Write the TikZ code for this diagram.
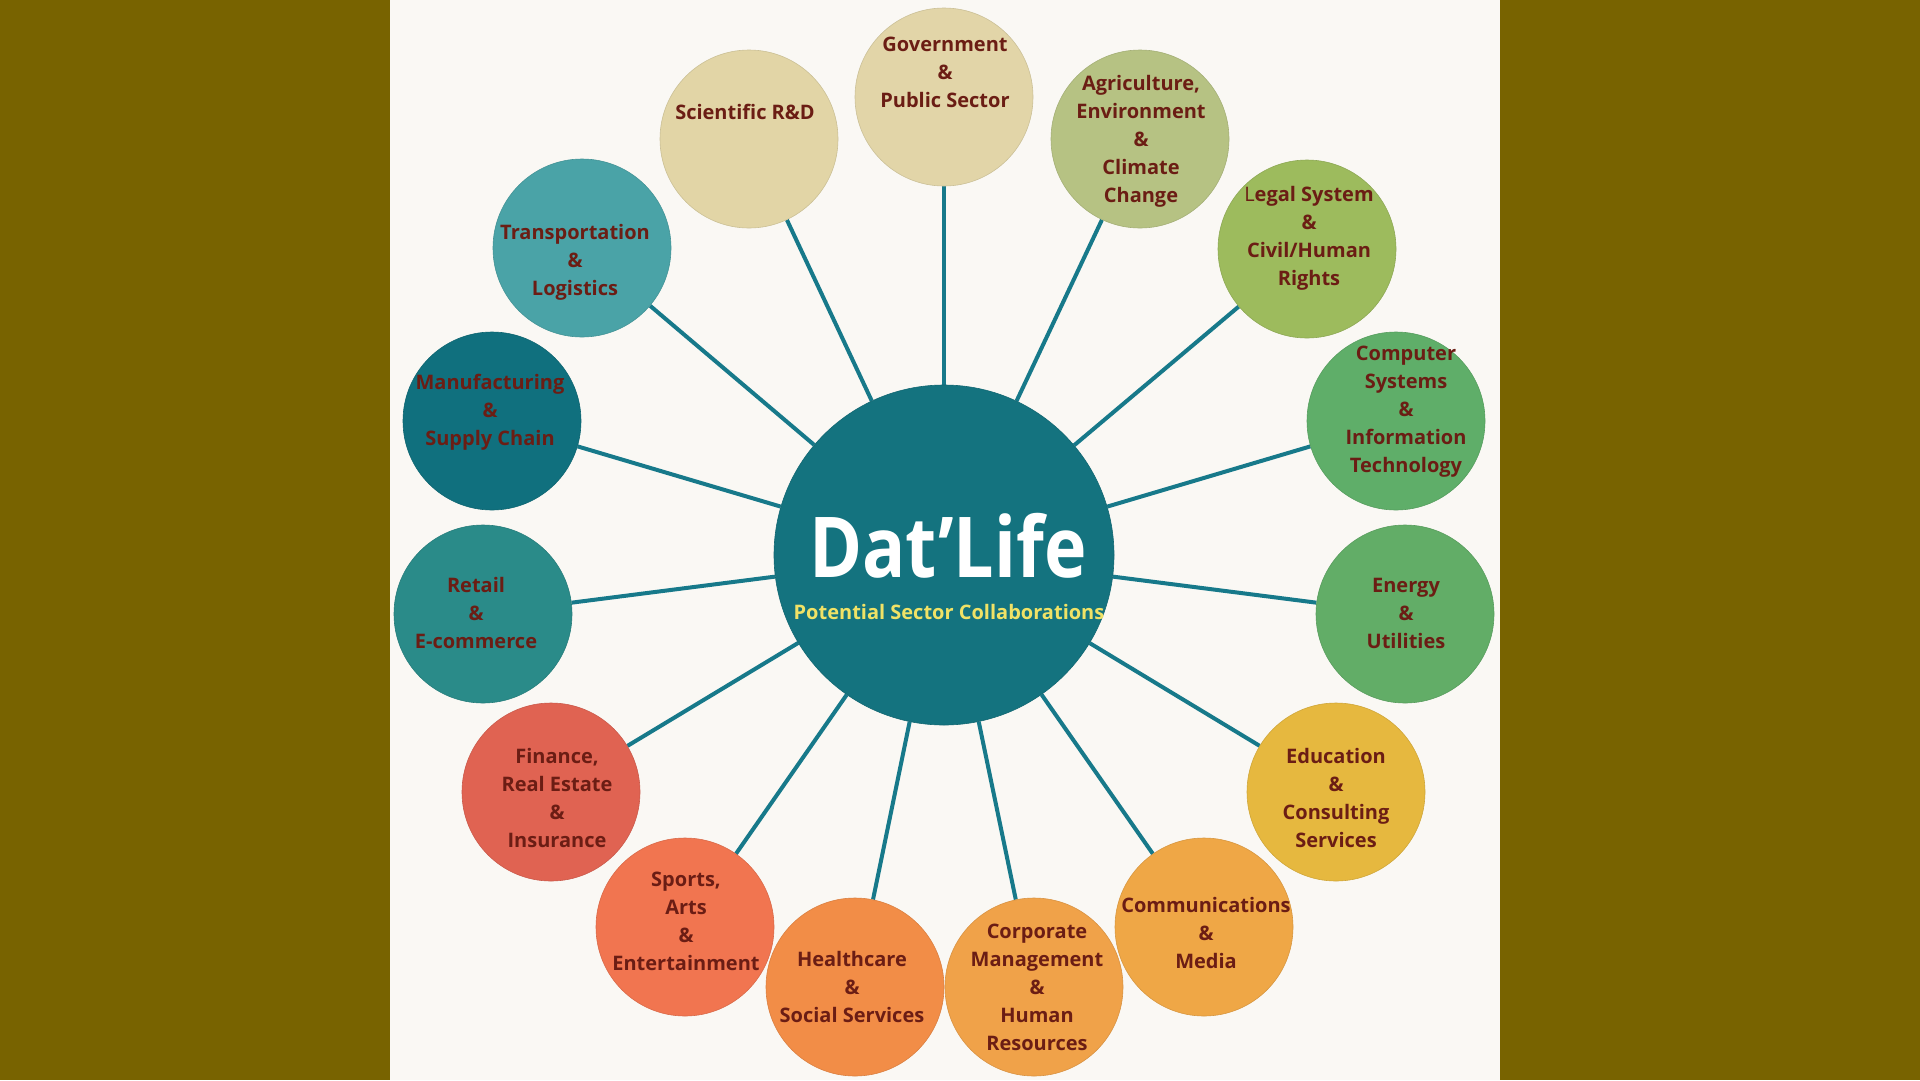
\documentclass[tikz,border=0pt]{standalone}
\usepackage{fontspec}
\usepackage{graphicx}
\setmainfont{Open Sans}
\usetikzlibrary{backgrounds}
\definecolor{olivebg}{HTML}{786300}
\definecolor{panel}{HTML}{FAF8F4}
\definecolor{hub}{HTML}{14737F}
\definecolor{linec}{HTML}{17798A}
\definecolor{txt}{HTML}{6B1D14}
\definecolor{subt}{HTML}{F0E266}
\definecolor{cgov}{HTML}{E2D5A8}
\definecolor{csci}{HTML}{E2D5A6}
\definecolor{cagri}{HTML}{B6C283}
\definecolor{clegal}{HTML}{9DBB5D}
\definecolor{ccomp}{HTML}{5FAE69}
\definecolor{cenergy}{HTML}{62AD67}
\definecolor{cedu}{HTML}{E6B83F}
\definecolor{ccomm}{HTML}{EFA746}
\definecolor{ccorp}{HTML}{F0A249}
\definecolor{chealth}{HTML}{F28D47}
\definecolor{csports}{HTML}{F17550}
\definecolor{cfin}{HTML}{E06352}
\definecolor{cretail}{HTML}{2A8B89}
\definecolor{cmanu}{HTML}{10707E}
\definecolor{ctrans}{HTML}{4AA3A7}
\pgfdeclarelayer{bg}
\pgfdeclarelayer{lines}
\pgfsetlayers{bg,lines,main}
\tikzset{
  sat/.style={circle, minimum size=178pt, inner sep=0pt, fill=#1, draw=#1!90!black, line width=0.6pt},
  sattext/.style={align=center, text=txt, font=\fontsize{20}{28}\selectfont\bfseries, inner sep=0pt, yshift=-1pt},
  spoke/.style={draw=linec, line width=4pt},
}
\begin{document}
\begin{tikzpicture}[x=1pt,y=-1pt]
\begin{pgfonlayer}{bg}
  \fill[olivebg] (0,0) rectangle (1920,1080);
  \fill[panel] (390,0) rectangle (1500,1080);
\end{pgfonlayer}
\useasboundingbox (0,0) rectangle (1920,1080);

\node[circle, minimum size=340pt, inner sep=0pt, fill=hub, draw=hub!90!black, line width=0.6pt] (hub) at (944,555) {};
\node[anchor=base, text=white, inner sep=0pt, font=\fontsize{84}{84}\selectfont\bfseries] (title) at (948,577) {\scalebox{0.855}[1]{Dat’Life}};
\node[anchor=base, text=subt, inner sep=0pt, font=\fontsize{20}{24}\selectfont\bfseries] (subtitle) at (949,619) {Potential Sector Collaborations};

\node[sat=cgov] (gov) at (944,97) {};
\node[sat=cagri] (agri) at (1140,139) {};
\node[sat=clegal] (legal) at (1307,249) {};
\node[sat=ccomp] (comp) at (1396,421) {};
\node[sat=cenergy] (energy) at (1405,614) {};
\node[sat=cedu] (edu) at (1336,792) {};
\node[sat=ccomm] (comm) at (1204,927) {};
\node[sat=ccorp] (corp) at (1034,987) {};
\node[sat=chealth] (health) at (855,987) {};
\node[sat=csports] (sports) at (685,927) {};
\node[sat=cfin] (fin) at (551,792) {};
\node[sat=cretail] (retail) at (483,614) {};
\node[sat=cmanu] (manu) at (492,421) {};
\node[sat=ctrans] (trans) at (582,248) {};
\node[sat=csci] (sci) at (749,139) {};

\node[sattext] (tgov) at (945,71) {Government\\\&\\Public Sector};
\node[sattext] (tagri) at (1141,140) {Agriculture,\\Environment\\\&\\Climate\\Change};
\node[sattext] (tlegal) at (1309,237) {{\mdseries L}egal System\\\&\\Civil/Human\\Rights};
\node[sattext] (tcomp) at (1406,411) {Computer\\Systems\\\&\\Information\\Technology};
\node[sattext] (tenergy) at (1406,612) {Energy\\\&\\Utilities};
\node[sattext] (tedu) at (1336,797) {Education\\\&\\Consulting\\Services};
\node[sattext] (tcomm) at (1206,932) {Communications\\\&\\Media};
\node[sattext] (tcorp) at (1037,986) {Corporate\\Management\\\&\\Human\\Resources};
\node[sattext] (thealth) at (852,986) {Healthcare\\\&\\Social Services};
\node[sattext] (tsports) at (686,920) {Sports,\\Arts\\\&\\Entertainment};
\node[sattext] (tfin) at (557,797) {Finance,\\Real Estate\\\&\\Insurance};
\node[sattext] (tretail) at (476,612) {Retail\\\&\\E-commerce};
\node[sattext] (tmanu) at (490,411) {Manufacturing\\\&\\Supply Chain};
\node[sattext] (ttrans) at (575,261) {Transportation\\\&\\Logistics};
\node[sattext] (tsci) at (745,111) {Scientific R\&D};

\begin{pgfonlayer}{lines}
  \foreach \s in {gov,agri,legal,comp,energy,edu,comm,corp,health,sports,fin,retail,manu,trans,sci}
    \draw[spoke] (hub) -- (\s);
\end{pgfonlayer}
\end{tikzpicture}
\end{document}
